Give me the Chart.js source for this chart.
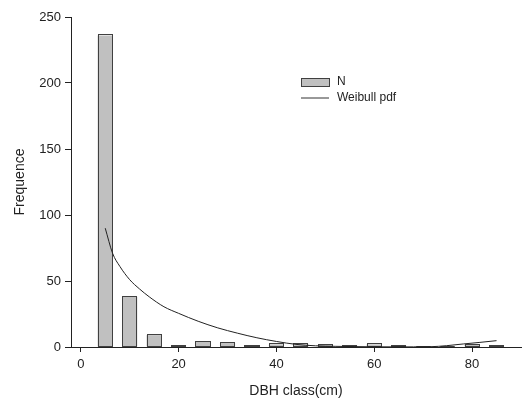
<!DOCTYPE html>
<html>
<head>
<meta charset="utf-8">
<title>DBH class distribution</title>
<script src="https://cdn.jsdelivr.net/npm/chart.js@4.4.1/dist/chart.umd.min.js"></script>
<style>
  html, body { margin: 0; padding: 0; background: #fff; }
  #wrap { width: 524px; height: 405px; position: relative; }
</style>
</head>
<body>
<div id="wrap"><canvas id="dbh-chart"></canvas></div>
<script>
// tree counts per 5 cm diameter class
const dbhClasses = [5, 10, 15, 20, 25, 30, 35, 40, 45, 50, 55, 60, 65, 70, 75, 80, 85];
const counts = [236, 38, 9, 1, 4, 3, 1, 2, 2, 1.5, 1, 2, 1, null, null, 1.5, 1];

// fitted Weibull curve, scaled to the counts
const weibullX = [5, 6.5, 8, 10, 12, 14, 17, 20, 24, 28, 32, 36, 40, 44, 48, 52, 56, 60, 64, 68, 71.4, 74.8, 78.2, 81.6, 85];
const weibullY = [90, 71, 61, 51, 44, 38, 30.5, 25.5, 19.5, 14.5, 10.5, 7, 4.2, 2, 0.9, 0.5, 0.3, 0.15, 0.1, 0.1, 0.2, 1.0, 2.3, 3.5, 4.8];

const xTickStep = 20;
const yTickStep = 50;

const FONT = "'Liberation Sans', Arial, sans-serif";
const INK = "#222";
const BAR_FILL = "#c0c0c0";
const BAR_EDGE = "#404040";

// crisp 1px outline around every bar, so even the 1-count classes show up
const barOutline = {
  id: "barOutline",
  afterDatasetDraw(chart, args) {
    const meta = args.meta;
    if (meta.type !== "bar") return;
    const ctx = chart.ctx;
    ctx.save();
    ctx.strokeStyle = BAR_EDGE;
    ctx.lineWidth = 1;
    meta.data.forEach((bar) => {
      const { x, y, base, width } = bar.getProps(["x", "y", "base", "width"], true);
      if (!isFinite(y) || !isFinite(x)) return;
      const l = Math.round(x - width / 2) + 0.5;
      const r = Math.round(x + width / 2) - 0.5;
      const t = Math.round(y) - 0.5;
      const b = Math.round(base) - 0.5;
      ctx.strokeRect(l, t, r - l, b - t);
    });
    ctx.restore();
  }
};

// legend drawn inside the plot, upper right
const insideLegend = {
  id: "insideLegend",
  afterDraw(chart, args, opts) {
    const ctx = chart.ctx;
    const x = opts.x, y = opts.y;
    ctx.save();
    ctx.font = `12px ${FONT}`;
    ctx.textBaseline = "middle";

    ctx.fillStyle = BAR_FILL;
    ctx.fillRect(x, y, 28, 8);
    ctx.strokeStyle = BAR_EDGE;
    ctx.lineWidth = 1;
    ctx.strokeRect(x + 0.5, y + 0.5, 28, 8);
    ctx.fillStyle = INK;
    ctx.fillText(chart.data.datasets[1].label, x + 36, y + 4);

    ctx.strokeStyle = "#333";
    ctx.beginPath();
    ctx.moveTo(x, y + 20);
    ctx.lineTo(x + 28, y + 20);
    ctx.stroke();
    ctx.fillText(chart.data.datasets[0].label, x + 36, y + 20);
    ctx.restore();
  }
};

const ctx = document.getElementById("dbh-chart").getContext("2d");

new Chart(ctx, {
  data: {
    datasets: [
      {
        type: "line",
        label: "Weibull pdf",
        data: weibullX.map((x, i) => ({ x: x, y: weibullY[i] })),
        borderColor: "#222",
        borderWidth: 1,
        pointRadius: 0,
        cubicInterpolationMode: "monotone",
        fill: false,
        order: 0
      },
      {
        type: "bar",
        label: "N",
        data: dbhClasses.map((c, i) => ({ x: c, y: counts[i] })),
        backgroundColor: BAR_FILL,
        borderWidth: 0,
        inflateAmount: 0,
        barPercentage: 0.62,
        categoryPercentage: 1,
        order: 1
      }
    ]
  },
  options: {
    responsive: true,
    maintainAspectRatio: false,
    animation: false,
    layout: { padding: { top: 17, right: 3, bottom: 0, left: 0 } },
    plugins: {
      legend: { display: false },
      tooltip: { enabled: false },
      insideLegend: { x: 301, y: 78 }
    },
    scales: {
      x: {
        type: "linear",
        min: -2,
        max: 90,
        offset: false,
        afterFit: (scale) => { scale.height = 58; },
        grid: { offset: false, drawOnChartArea: false, drawTicks: true, tickLength: 5, color: INK },
        border: { color: INK, width: 1 },
        ticks: {
          stepSize: xTickStep,
          includeBounds: false,
          padding: 5,
          color: INK,
          font: { family: FONT, size: 13 }
        },
        title: {
          display: true,
          text: "DBH class(cm)",
          color: INK,
          font: { family: FONT, size: 14 },
          padding: { top: 0, bottom: 5 }
        }
      },
      y: {
        min: 0,
        max: 250,
        afterFit: (scale) => { scale.width = 71; },
        grid: { drawOnChartArea: false, drawTicks: true, tickLength: 6, color: INK },
        border: { color: INK, width: 1 },
        ticks: {
          stepSize: yTickStep,
          padding: 4,
          color: INK,
          font: { family: FONT, size: 13 }
        },
        title: {
          display: true,
          text: "Frequence",
          color: INK,
          font: { family: FONT, size: 14 },
          padding: { top: 12, bottom: 0 }
        }
      }
    }
  },
  plugins: [barOutline, insideLegend]
});
</script>
</body>
</html>
